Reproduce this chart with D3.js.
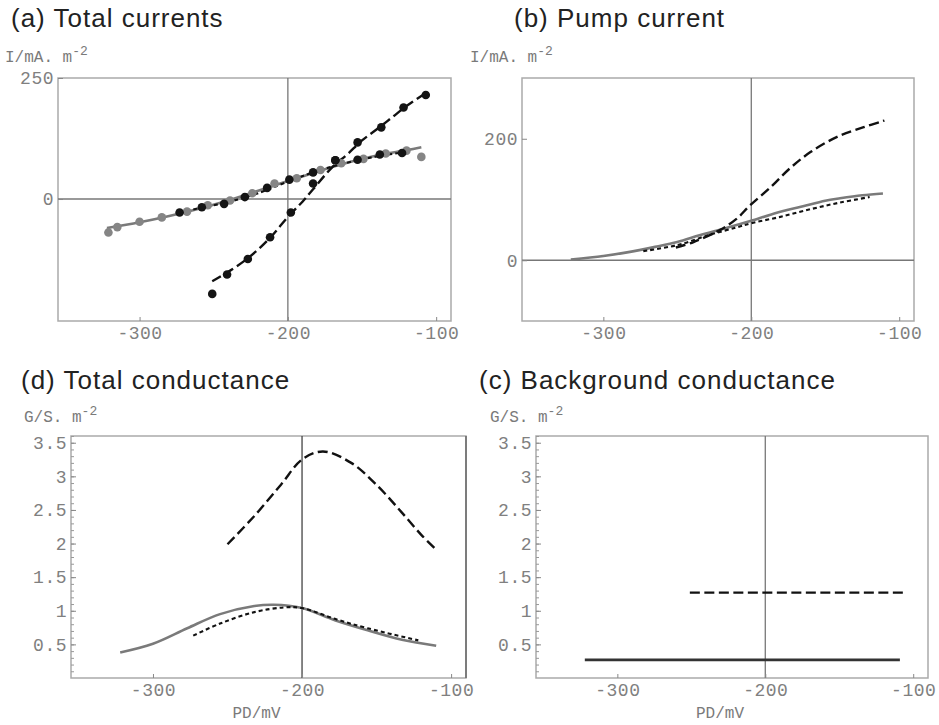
<!DOCTYPE html>
<html>
<head>
<meta charset="utf-8">
<script src="https://cdn.jsdelivr.net/npm/d3@7"></script>
<style>
  body { margin: 0; background: #fff; }
  .title { font-family: "Liberation Sans", Arial, sans-serif; font-size: 26px; letter-spacing: 1px; fill: #222; }
  .axlab { font-family: "Liberation Mono", "Courier New", monospace; font-size: 16px; fill: #7a7a7a; }
  .tick text { font-family: "Liberation Mono", "Courier New", monospace; font-size: 18px; letter-spacing: 0.5px; fill: #808080; }
</style>
</head>
<body>
<svg id="chart" width="939" height="725"></svg>
<script>
// ---- data ----
// (a) total currents: measured points
const aGrayX  = [-321, -315, -300, -285, -268, -254, -239, -224, -209, -194, -178, -164, -149, -134, -120, -110];
const aGrayY  = [-69, -58, -47, -38, -26, -13, -3, 12, 32, 43, 60, 74, 83, 94, 100, 87];
const aBlackX = [-273, -258, -243, -229, -214, -199, -183, -168, -153, -138, -123];
const aBlackY = [-28, -17, -10, 4, 23, 40, 55, 80, 81, 92, 95];
const aSteepX = [-251, -241, -227, -212, -198, -183, -168, -153, -137, -122, -107];
const aSteepY = [-196, -156, -124, -79, -28, 32, 80, 117, 148, 189, 215];
// (a) fitted curves
const aFitSolidX = [-322, -300, -280, -260, -240, -220, -200, -180, -160, -140, -120, -110];
const aFitSolidY = [-60, -48, -35, -20, -3, 17, 37, 57, 75, 90, 101, 107];
const aFitShortX = [-273, -260, -240, -220, -200, -180, -160, -140, -123];
const aFitShortY = [-28, -19, -6, 12, 36, 58, 75, 88, 96];
const aFitLongX  = [-251, -240, -226, -212, -200, -190, -183, -170, -160, -150, -140, -130, -120, -107];
const aFitLongY  = [-170, -150, -120, -80, -37, -5, 20, 66, 92, 121, 144, 168, 192, 219];

// (b) pump current
const bSolidX = [-322, -300, -284, -265, -250, -235, -223, -210, -200, -187, -175, -165, -150, -140, -125, -111];
const bSolidY = [1, 7, 13, 22, 30, 41, 49, 58, 65, 75, 83, 89, 98, 102, 107, 110];
const bShortX = [-273, -250, -228, -210, -200, -181, -160, -140, -120];
const bShortY = [15, 25, 42, 54, 61, 71, 84, 95, 104];
const bLongX  = [-251, -239, -221, -210, -201, -187, -174, -160, -142, -124, -110];
const bLongY  = [21, 30, 50, 68, 90, 120, 151, 178, 203, 219, 230];

// (d) total conductance
const dSolidX = [-322, -300, -277, -255, -232, -219, -200, -178, -156, -133, -110];
const dSolidY = [0.38, 0.51, 0.74, 0.95, 1.07, 1.09, 1.04, 0.86, 0.71, 0.57, 0.48];
const dShortX = [-273, -255, -232, -212, -200, -178, -156, -122];
const dShortY = [0.63, 0.81, 0.98, 1.05, 1.04, 0.88, 0.74, 0.56];
const dLongX  = [-250, -232, -214, -200, -186, -167, -149, -133, -120, -110];
const dLongY  = [1.99, 2.41, 2.88, 3.25, 3.37, 3.20, 2.85, 2.46, 2.13, 1.91];

// (c) background conductance
const cSolidX = [-322, -109];
const cSolidY = [0.27, 0.27];
const cLongX  = [-251, -106];
const cLongY  = [1.27, 1.27];

const xTicks = [-300, -200, -100];
const zip = (xs, ys) => xs.map((x, i) => ({ x: x, y: ys[i] }));

const svg = d3.select("#chart");

const styles = {
  solid: { stroke: "#7a7a7a", width: 2.6, dash: null },
  short: { stroke: "#111", width: 2.1, dash: "4,3" },
  long:  { stroke: "#111", width: 2.4, dash: "10,4.5" },
  flat:  { stroke: "#333", width: 2.8, dash: null }
};

function drawPanel(cfg) {
  const x = d3.scaleLinear().domain([-355, -90]).range([cfg.left, cfg.right]);
  const y = d3.scaleLinear().domain(cfg.yDomain).range([cfg.bottom, cfg.top]);
  const g = svg.append("g");

  // frame
  g.append("rect")
    .attr("x", cfg.left).attr("y", cfg.top)
    .attr("width", cfg.right - cfg.left).attr("height", cfg.bottom - cfg.top)
    .attr("fill", "none").attr("stroke", "#aaa").attr("stroke-width", 1.5);
  if (cfg.darkRight) {
    g.append("line")
      .attr("x1", cfg.right).attr("x2", cfg.right)
      .attr("y1", cfg.top).attr("y2", cfg.bottom)
      .attr("stroke", "#666").attr("stroke-width", 1.5);
  }

  // axes through (-200, 0)
  g.append("line")
    .attr("x1", x(-200)).attr("x2", x(-200))
    .attr("y1", cfg.top).attr("y2", cfg.bottom)
    .attr("stroke", cfg.darkRight ? "#444" : "#777").attr("stroke-width", 1.3);
  if (cfg.yDomain[0] < 0) {
    g.append("line")
      .attr("x1", cfg.left).attr("x2", cfg.right)
      .attr("y1", y(0)).attr("y2", y(0))
      .attr("stroke", "#777").attr("stroke-width", 1.3);
  }

  // x axis
  const xa = g.append("g")
    .attr("transform", "translate(0," + cfg.bottom + ")")
    .call(d3.axisBottom(x).tickValues(xTicks).tickSize(-4).tickPadding(5).tickFormat(d => String(d)));
  xa.select(".domain").remove();
  xa.selectAll(".tick line").attr("stroke", "#888");

  // y axis
  if (cfg.minor) {
    const ma = g.append("g")
      .attr("transform", "translate(" + cfg.left + ",0)")
      .call(d3.axisLeft(y).tickValues(cfg.minor).tickSize(-3).tickFormat(""));
    ma.select(".domain").remove();
    ma.selectAll(".tick line").attr("stroke", "#999");
  }
  const ya = g.append("g")
    .attr("transform", "translate(" + cfg.left + ",0)")
    .call(d3.axisLeft(y).tickValues(cfg.yTicks).tickSize(-5).tickPadding(4).tickFormat(d => String(d)));
  ya.select(".domain").remove();
  ya.selectAll(".tick line").attr("stroke", "#888");

  // title
  svg.append("text").attr("class", "title")
    .attr("x", cfg.titleX).attr("y", cfg.titleY).text(cfg.title);

  // y label with superscript
  const lab = svg.append("text").attr("class", "axlab")
    .attr("x", cfg.labX).attr("y", cfg.labY);
  lab.append("tspan").text(cfg.yLabel);
  lab.append("tspan").attr("dy", -7).attr("font-size", 13).text("-2");

  if (cfg.xLabel) {
    svg.append("text").attr("class", "axlab")
      .attr("x", (cfg.left + cfg.right) / 2 - 12).attr("y", cfg.bottom + 40)
      .attr("text-anchor", "middle").text("PD/mV");
  }

  // curves
  const line = d3.line().x(d => x(d.x)).y(d => y(d.y)).curve(d3.curveCatmullRom.alpha(0.5));
  cfg.curves.forEach(c => {
    const s = styles[c.style];
    g.append("path")
      .datum(zip(c.xs, c.ys))
      .attr("d", line)
      .attr("fill", "none")
      .attr("stroke", s.stroke)
      .attr("stroke-width", s.width)
      .attr("stroke-dasharray", s.dash);
  });

  // points
  (cfg.points || []).forEach(p => {
    g.selectAll(null)
      .data(zip(p.xs, p.ys))
      .join("circle")
        .attr("cx", d => x(d.x))
        .attr("cy", d => y(d.y))
        .attr("r", 4.3)
        .attr("fill", p.color);
  });
}

const minorG = d3.range(1, 37).map(i => i / 10);

drawPanel({
  title: "(a) Total currents", titleX: 11, titleY: 27,
  left: 58, right: 451, top: 78, bottom: 321, yDomain: [-252, 250], yTicks: [0, 250],
  yLabel: "I/mA. m", labX: 5, labY: 62,
  curves: [
    { xs: aFitSolidX, ys: aFitSolidY, style: "solid" },
    { xs: aFitShortX, ys: aFitShortY, style: "short" },
    { xs: aFitLongX, ys: aFitLongY, style: "long" }
  ],
  points: [
    { xs: aGrayX, ys: aGrayY, color: "#858585" },
    { xs: aBlackX, ys: aBlackY, color: "#141414" },
    { xs: aSteepX, ys: aSteepY, color: "#141414" }
  ]
});

drawPanel({
  title: "(b) Pump current", titleX: 514, titleY: 27,
  left: 522, right: 914, top: 78, bottom: 321, yDomain: [-100, 300], yTicks: [0, 200],
  yLabel: "I/mA. m", labX: 470, labY: 62,
  curves: [
    { xs: bSolidX, ys: bSolidY, style: "solid" },
    { xs: bShortX, ys: bShortY, style: "short" },
    { xs: bLongX, ys: bLongY, style: "long" }
  ]
});

drawPanel({
  title: "(d) Total conductance", titleX: 21, titleY: 389,
  left: 71, right: 466, top: 436, bottom: 678, yDomain: [0, 3.6],
  yTicks: [0.5, 1, 1.5, 2, 2.5, 3, 3.5], minor: minorG, darkRight: true, xLabel: true,
  yLabel: "G/S. m", labX: 24, labY: 422,
  curves: [
    { xs: dSolidX, ys: dSolidY, style: "solid" },
    { xs: dShortX, ys: dShortY, style: "short" },
    { xs: dLongX, ys: dLongY, style: "long" }
  ]
});

drawPanel({
  title: "(c) Background conductance", titleX: 479, titleY: 389,
  left: 536, right: 928, top: 436, bottom: 678, yDomain: [0, 3.6],
  yTicks: [0.5, 1, 1.5, 2, 2.5, 3, 3.5], minor: minorG, xLabel: true,
  yLabel: "G/S. m", labX: 490, labY: 422,
  curves: [
    { xs: cSolidX, ys: cSolidY, style: "flat" },
    { xs: cLongX, ys: cLongY, style: "long" }
  ]
});
</script>
</body>
</html>
